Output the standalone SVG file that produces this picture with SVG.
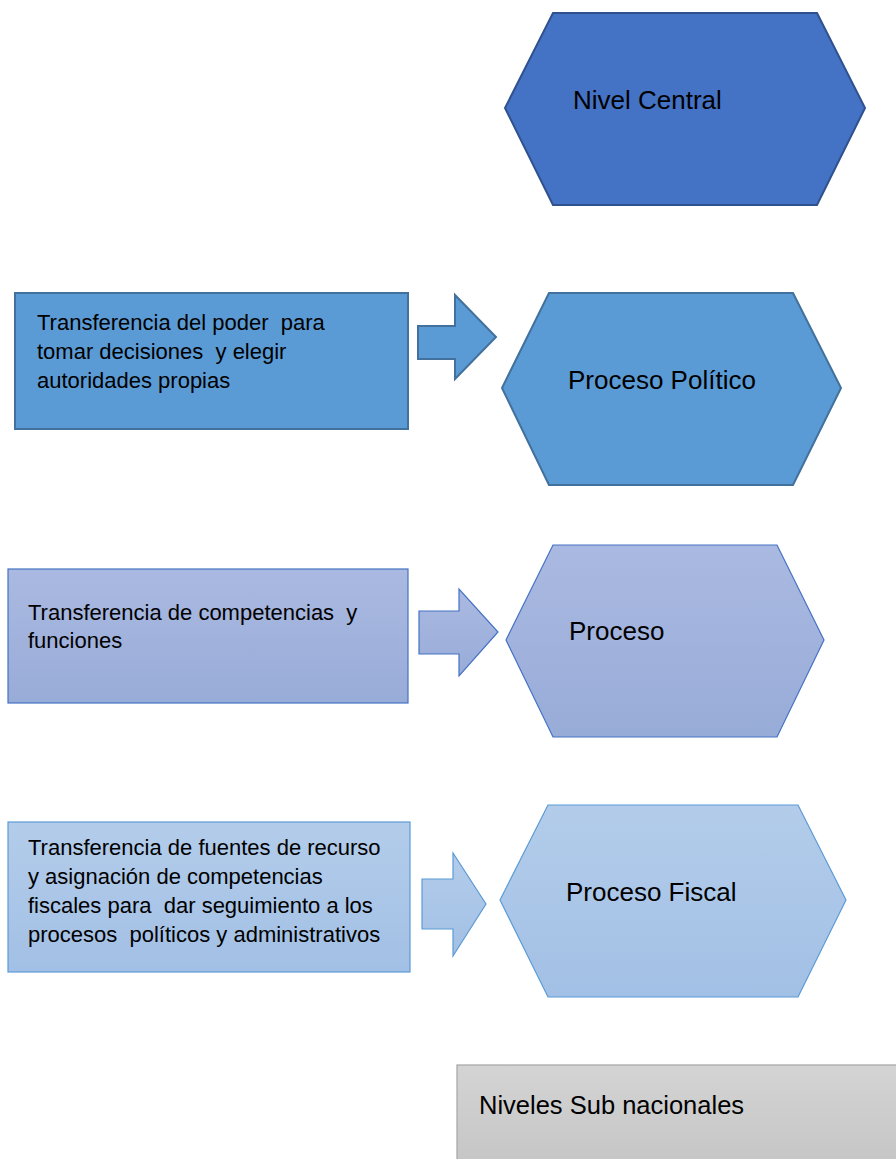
<svg xmlns="http://www.w3.org/2000/svg" width="896" height="1159" viewBox="0 0 896 1159" xml:space="preserve">
<style>
text{font-family:"Liberation Sans",Arial,sans-serif;fill:#000;white-space:pre}
.big{font-size:26px}
.small{font-size:22px}
.dark{fill:#4472C4;stroke:#2F528F;stroke-width:2}
.mid{fill:#5B9BD5;stroke:#41719C;stroke-width:2}
.lav{fill:url(#gLav);stroke:#4472C4;stroke-width:1.2}
.lb{fill:url(#gLb);stroke:#5B9BD5;stroke-width:1.2}
.gray{fill:url(#gGray);stroke:#A5A5A5;stroke-width:1.2}
</style>
<defs>
<linearGradient id="gLav" x1="0" y1="0" x2="0" y2="1"><stop offset="0" stop-color="#AAB9E1"/><stop offset="1" stop-color="#98ACD8"/></linearGradient>
<linearGradient id="gLb" x1="0" y1="0" x2="0" y2="1"><stop offset="0" stop-color="#B3CCEA"/><stop offset="1" stop-color="#A2C0E5"/></linearGradient>
<linearGradient id="gGray" x1="0" y1="0" x2="0" y2="1"><stop offset="0" stop-color="#D4D4D4"/><stop offset="1" stop-color="#C4C4C4"/></linearGradient>
</defs>
<rect width="896" height="1159" fill="#fff"/>
<g id="nivel-central">
<polygon class="dark" points="553,13 817,13 865,108 817,205 553,205 505,108"/>
<text class="big" x="573" y="109">Nivel Central</text>
</g>
<g id="box-politico">
<rect class="mid" x="15" y="293" width="393" height="136"/>
<text class="small" x="37" y="330">Transferencia del poder  para</text>
<text class="small" x="37" y="359">tomar decisiones  y elegir</text>
<text class="small" x="37" y="388">autoridades propias</text>
</g>
<g id="proceso-politico">
<polygon class="mid" points="549,293 793,293 841,388 793,485 549,485 502,388"/>
<text class="big" x="568" y="389">Proceso Político</text>
</g>
<g id="box-competencias">
<rect class="lav" x="8" y="569" width="400" height="134"/>
<text class="small" x="28" y="620">Transferencia de competencias  y</text>
<text class="small" x="28" y="648">funciones</text>
</g>
<g id="proceso">
<polygon class="lav" points="553,545 777,545 824,640 777,737 553,737 506,640"/>
<text class="big" x="569" y="640">Proceso</text>
</g>
<g id="box-fiscal">
<rect class="lb" x="8" y="822" width="402" height="150"/>
<text class="small" x="28" y="855">Transferencia de fuentes de recurso</text>
<text class="small" x="28" y="884">y asignación de competencias</text>
<text class="small" x="28" y="913">fiscales para  dar seguimiento a los</text>
<text class="small" x="28" y="942">procesos  políticos y administrativos</text>
</g>
<g id="proceso-fiscal">
<polygon class="lb" points="548,805 798,805 846,900 798,997 548,997 500,900"/>
<text class="big" x="566" y="901">Proceso Fiscal</text>
</g>
<g id="niveles-sub">
<rect class="gray" x="457" y="1065" width="460" height="110"/>
<text x="479" y="1114" style="font-size:25.5px">Niveles Sub nacionales</text>
</g>
<g id="connectors">
<polygon class="mid" points="418,326 455,326 455,295 496,337 455,379 455,359 418,359"/>
<polygon class="lav" points="419,611 459,611 459,589 498,632 459,676 459,654 419,654"/>
<polygon class="lb" points="422,879 453,879 453,853 486,904 453,956 453,929 422,929"/>
</g>
</svg>
